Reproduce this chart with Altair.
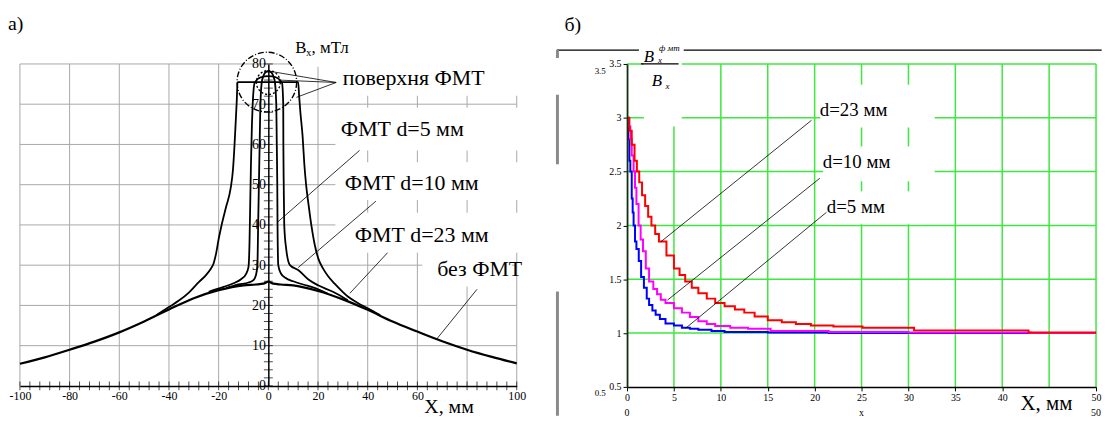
import altair as alt
import pandas as pd

SERIF = "Liberation Serif, 'Times New Roman', 'DejaVu Serif', serif"

# ---------------- panel a) : Bx(X), mT ----------------
base_x = [-100, -90, -80, -70, -60, -50, -40, -30, -20, -10, -5, -2, 0, 2, 5, 10, 20, 30, 40, 50, 60, 70, 80, 90, 100]
base_y = [5.5, 7.1, 9.0, 11.0, 13.3, 16.0, 19.0, 21.8, 23.8, 25.0, 25.2, 25.4, 25.9, 25.4, 25.2, 25.0, 23.6, 21.5, 18.9, 16.0, 13.5, 11.1, 9.0, 7.2, 5.6]

d23_x = [-45, -40, -36, -32, -28, -25, -23.3, -22, -21, -20, -18.8, -17, -15.2, -14.2, -13.6, -13.1, -12.7, -12.4,
         12.0, 12.4, 12.9, 13.8, 14.5, 15.2, 16.2, 17.3, 18.7, 20.2, 22, 24, 26.7, 32, 36, 40, 45]
d23_y = [17.6, 19.6, 21.2, 23.2, 25.8, 27.6, 29.0, 30.5, 33.0, 36.5, 40.0, 44.5, 49.0, 54.0, 60.0, 66.0, 71.0, 75.5,
         75.5, 72.0, 68.0, 62.0, 55.0, 50.0, 45.0, 40.0, 35.0, 31.5, 29.2, 27.3, 25.4, 22.2, 20.6, 19.3, 17.6]

d10_x = [-24, -18, -14, -11, -9, -8, -7.6, -7.3, -7.0, -6.6, -6.3, -5.5, -3, 0, 3, 5.5, 6.0, 6.05, 6.2, 6.4, 7.2, 8.7, 12, 16, 20, 26, 32]
d10_y = [23.4, 24.6, 25.5, 26.5, 27.8, 29.5, 35, 45, 55, 65, 70, 75.3, 76.7, 77, 76.7, 75.3, 70, 60, 50, 40, 34, 30, 28.8, 26.5, 25, 23.4, 21.3]

d5_x = [-17, -12, -8, -6, -5, -4.4, -4.1, -3.8, -3.5, -3.2, -2.5, -1, 0, 1, 2.5, 3.2, 3.4, 3.6, 3.7, 4.0, 5, 7, 10, 14, 18, 24]
d5_y = [24.3, 25.2, 25.7, 26.3, 27.5, 30, 40, 50, 60, 70, 76, 78, 78.2, 78, 76, 70, 60, 50, 40, 30, 28, 26.8, 26, 25.2, 24.5, 22.9]

a_xlabels = [-100, -80, -60, -40, -20, 0, 20, 40, 60, 100]
a_xgrid = [-100, -80, -60, -40, -20, 20, 40, 60, 80, 100]
a_ylabels = [0, 10, 20, 30, 40, 50, 60, 70, 80]
a_ygrid = [10, 20, 30, 40, 50, 60, 70, 80]
a_xminor = list(range(-100, 101, 4))
a_yminor = list(range(0, 81, 2))

# ---------------- panel б) : ratio ----------------
r23_x = [0, 0.25, 0.5, 0.8, 1.05, 1.3, 1.6, 1.93, 2.25, 2.6, 3.0, 3.4, 4.2, 5.0, 5.6, 6.2, 6.9, 7.6, 8.5, 9.4, 10.4, 11.5, 12.5, 13.6, 15.0, 16.5, 18.0, 19.6, 22.0, 25.1, 30.6, 42.8, 50]
r23_y = [3.0, 2.88, 2.75, 2.6, 2.5, 2.4, 2.28, 2.18, 2.08, 2.0, 1.92, 1.85, 1.72, 1.6, 1.54, 1.48, 1.42, 1.37, 1.32, 1.28, 1.25, 1.22, 1.19, 1.155, 1.12, 1.1, 1.085, 1.07, 1.06, 1.05, 1.025, 1.005, 1.005]

r10_x = [0, 0.2, 0.35, 0.5, 0.7, 0.85, 1.0, 1.23, 1.45, 1.7, 2.0, 2.35, 2.8, 3.2, 3.6, 4.1, 5.0, 5.85, 6.7, 7.6, 8.5, 9.4, 11.0, 12.9, 15.3, 21.5, 30, 43, 50]
r10_y = [3.0, 2.92, 2.8, 2.65, 2.5, 2.35, 2.2, 2.0, 1.87, 1.76, 1.6, 1.48, 1.41, 1.36, 1.31, 1.28, 1.23, 1.19, 1.15, 1.11, 1.085, 1.065, 1.05, 1.04, 1.02, 1.01, 1.005, 1.0, 1.0]

r5_x = [0, 0.1, 0.25, 0.35, 0.5, 0.6, 0.7, 0.85, 1.0, 1.25, 1.5, 1.8, 2.1, 2.35, 2.7, 3.05, 3.5, 4.1, 5.0, 5.85, 6.7, 7.6, 9.0, 10.4, 15.0, 21.5, 50]
r5_y = [2.98, 2.8, 2.6, 2.5, 2.25, 2.12, 2.0, 1.85, 1.78, 1.67, 1.52, 1.42, 1.32, 1.26, 1.21, 1.17, 1.13, 1.09, 1.07, 1.05, 1.04, 1.03, 1.02, 1.01, 1.005, 1.0, 1.0]

b_xlabels = [0, 5, 10, 15, 20, 25, 30, 35, 40, 50]
b_xgrid = [5, 10, 15, 20, 25, 30, 35, 40, 45, 50]
b_ylabels = [0.5, 1, 1.5, 2, 2.5, 3, 3.5]
b_ygrid = [1, 1.5, 2, 2.5, 3, 3.5]


def series(xs, ys):
    return pd.DataFrame({"x": xs, "y": ys, "i": list(range(len(xs)))})


# ======================= panel a) =======================
AX = alt.X("x:Q", scale=alt.Scale(domain=[-100, 100], nice=False, zero=False),
           axis=alt.Axis(values=a_xlabels, title=None, grid=False, ticks=False,
                         domainColor="black", domainWidth=1.5, zindex=1,
                         labelFont=SERIF, labelFontSize=12, labelColor="black",
                         labelPadding=5, labelFlush=False, labelOverlap=False,
                         labelExpr="(datum.value < 0 ? '-' : '') + abs(datum.value)"))
AY = alt.Y("y:Q", scale=alt.Scale(domain=[0, 80], nice=False, zero=False),
           axis=alt.Axis(values=a_ylabels, title=None, grid=False, ticks=False,
                         orient="left", offset=-250, domainColor="black", domainWidth=1.5,
                         zindex=1, labelFont=SERIF, labelFontSize=14, labelColor="black",
                         labelPadding=3, labelFlush=False, labelOverlap=False))

GRID_A = "#a8a8a8"
a_layers = []
a_layers.append(alt.Chart(pd.DataFrame({"x": a_xgrid})).mark_rule(color=GRID_A, strokeWidth=1).encode(x=AX))
a_layers.append(alt.Chart(pd.DataFrame({"y": a_ygrid})).mark_rule(color=GRID_A, strokeWidth=1).encode(y=AY))

# white label boxes of the original figure
a_boxes = pd.DataFrame({
    "x": [9.2, 27, 27, 27, 27, 62],
    "x2": [30, 101.2, 101.2, 101.2, 101.2, 98],
    "y": [79.3, 72.1, 58.5, 46.2, 33.1, 24.7],
    "y2": [86.2, 86.2, 69.1, 55.6, 43.0, 33.1],
})
a_layers.append(alt.Chart(a_boxes).mark_rect(color="white").encode(
    x=AX, x2="x2:Q", y=AY, y2="y2:Q"))

# minor ticks crossing the axes
a_layers.append(alt.Chart(pd.DataFrame({"x": a_xminor, "y": [0] * len(a_xminor)})).mark_tick(
    orient="vertical", color="black", size=9, thickness=1).encode(x=AX, y=AY))
a_layers.append(alt.Chart(pd.DataFrame({"x": [0] * len(a_yminor), "y": a_yminor})).mark_tick(
    orient="horizontal", color="black", size=9, thickness=1).encode(x=AX, y=AY))

for xs, ys, w in [(base_x, base_y, 2.2), (d23_x, d23_y, 1.8), (d10_x, d10_y, 1.8), (d5_x, d5_y, 1.8)]:
    a_layers.append(alt.Chart(series(xs, ys)).mark_line(color="black", strokeWidth=w,
                                                        interpolate="monotone").encode(
        x=AX, y=AY, order="i:Q"))

a_leaders = pd.DataFrame({
    "x": [27.3, 27.3, 27.3, 36.7, 43.3, 48.0, 84.0],
    "y": [75.4, 75.4, 75.4, 58.5, 45.9, 33.1, 24.0],
    "x2": [-0.5, 4.0, 11.3, 3.7, 12.0, 32.8, 67.6],
    "y2": [78.3, 76.0, 71.7, 40.7, 29.4, 23.0, 11.5],
})
a_layers.append(alt.Chart(a_leaders).mark_rule(color="black", strokeWidth=0.8).encode(
    x=AX, y=AY, x2="x2:Q", y2="y2:Q"))

a_layers.append(alt.Chart(pd.DataFrame({"x": [-0.6], "y": [75.5]})).mark_point(
    shape="circle", filled=False, color="black", strokeWidth=1.4, strokeDash=[6, 2, 1, 2], opacity=1
).encode(x=AX, y=AY, size=alt.value(3600)))
a_layers.append(alt.Chart(pd.DataFrame({"x": [0], "y": [75.4]})).mark_point(
    shape="circle", filled=False, color="black", strokeWidth=1.4, strokeDash=[2, 2], opacity=1
).encode(x=AX, y=AY, size=alt.value(576)))

a_big = pd.DataFrame({
    "x": [30.0, 29.2, 30.8, 34.8, 68.0],
    "y": [74.8, 62.0, 48.6, 35.8, 27.4],
    "t": ["поверхня ФМТ", "ФМТ d=5 мм", "ФМТ d=10 мм", "ФМТ d=23 мм", "без ФМТ"],
})
a_layers.append(alt.Chart(a_big).mark_text(align="left", baseline="alphabetic", font=SERIF,
                                           fontSize=22, color="black").encode(x=AX, y=AY, text="t:N"))
a_layers.append(alt.Chart(pd.DataFrame({"x": [62.8], "y": [-6.7], "t": ["X, мм"]})).mark_text(
    align="left", baseline="alphabetic", font=SERIF, fontSize=20, color="black").encode(x=AX, y=AY, text="t:N"))
a_layers.append(alt.Chart(pd.DataFrame({"x": [10.8, 17.4], "y": [82.7, 82.7], "t": ["B", ", мТл"]})).mark_text(
    align="left", baseline="alphabetic", font=SERIF, fontSize=17, color="black").encode(x=AX, y=AY, text="t:N"))
a_layers.append(alt.Chart(pd.DataFrame({"x": [15.2], "y": [82.0], "t": ["x"]})).mark_text(
    align="left", baseline="alphabetic", font=SERIF, fontSize=11, color="black").encode(x=AX, y=AY, text="t:N"))
a_layers.append(alt.Chart(pd.DataFrame({"x": [-104.8], "y": [92.3], "t": ["а)"]})).mark_text(
    align="left", baseline="top", font=SERIF, fontSize=20, color="black").encode(x=AX, y=AY, text="t:N"))

left = alt.layer(*a_layers).properties(width=500, height=324)

# ======================= panel б) =======================
BX = alt.X("x:Q", scale=alt.Scale(domain=[0, 50], nice=False, zero=False),
           axis=alt.Axis(values=b_xlabels, title=None, grid=False, ticks=True, tickSize=4,
                         tickColor="black", domainColor="black", domainWidth=1.5, zindex=1,
                         labelFont=SERIF, labelFontSize=10, labelColor="black", labelPadding=2,
                         labelFlush=False, labelOverlap=False))
BY = alt.Y("y:Q", scale=alt.Scale(domain=[0.5, 3.5], nice=False, zero=False),
           axis=alt.Axis(values=b_ylabels, title=None, grid=False, ticks=True, tickSize=4,
                         tickColor="black", domainColor="#103010", domainWidth=1.8, zindex=1,
                         format="~g", labelFont=SERIF, labelFontSize=10, labelColor="black",
                         labelPadding=2, labelFlush=False, labelOverlap=False))

GRID_B = "#3ee83e"
b_layers = []
b_layers.append(alt.Chart(pd.DataFrame({"x": b_xgrid})).mark_rule(color=GRID_B, strokeWidth=1.5).encode(x=BX))
b_layers.append(alt.Chart(pd.DataFrame({"y": b_ygrid})).mark_rule(color=GRID_B, strokeWidth=1.5).encode(y=BY))

b_boxes = pd.DataFrame({
    "x": [1.8, 20.6, 20.9, 21.3],
    "x2": [5.83, 32.8, 32.8, 31.5],
    "y": [2.92, 2.909, 2.411, 2.01],
    "y2": [3.63, 3.306, 2.734, 2.318],
})
b_layers.append(alt.Chart(b_boxes).mark_rect(color="white").encode(x=BX, x2="x2:Q", y=BY, y2="y2:Q"))

for xs, ys, c in [(r5_x, r5_y, "#0000ff"), (r10_x, r10_y, "#ff00ff"), (r23_x, r23_y, "#ff0000")]:
    b_layers.append(alt.Chart(series(xs, ys)).mark_line(color=c, strokeWidth=2, interpolate="step-after").encode(
        x=BX, y=BY, order="i:Q"))

b_leaders = pd.DataFrame({
    "x": [19.67, 20.55, 21.26],
    "y": [2.977, 2.438, 2.122],
    "x2": [3.6, 4.31, 6.25],
    "y2": [1.848, 1.306, 1.045],
})
b_layers.append(alt.Chart(b_leaders).mark_rule(color="black", strokeWidth=0.8).encode(
    x=BX, y=BY, x2="x2:Q", y2="y2:Q"))

# frame pieces of the original figure
b_frame = pd.DataFrame({
    "x": [-7.5, 6.04, 1.48],
    "x2": [1.27, 50.6, 5.5],
    "y": [3.629, 3.629, 3.5],
    "y2": [3.629, 3.629, 3.5],
})
b_layers.append(alt.Chart(b_frame).mark_rule(color="black", strokeWidth=1.3).encode(
    x=BX, y=BY, x2="x2:Q", y2="y2:Q"))
b_bars = pd.DataFrame({
    "x": [-7.42, -7.42, -7.42],
    "x2": [-7.42, -7.42, -7.42],
    "y": [3.629, 3.214, 1.386],
    "y2": [3.555, 2.568, 0.232],
})
b_layers.append(alt.Chart(b_bars).mark_rule(color="#8a8a8a", strokeWidth=3).encode(
    x=BX, y=BY, x2="x2:Q", y2="y2:Q"))

b_lbl = pd.DataFrame({
    "x": [20.55, 20.87, 21.29],
    "y": [3.02, 2.531, 2.115],
    "t": ["d=23 мм", "d=10 мм", "d=5 мм"],
})
b_layers.append(alt.Chart(b_lbl).mark_text(align="left", baseline="alphabetic", font=SERIF,
                                           fontSize=19, color="black").encode(x=BX, y=BY, text="t:N"))
b_layers.append(alt.Chart(pd.DataFrame({"x": [41.95], "y": [0.288], "t": ["X, мм"]})).mark_text(
    align="left", baseline="alphabetic", font=SERIF, fontSize=21, color="black").encode(x=BX, y=BY, text="t:N"))
b_layers.append(alt.Chart(pd.DataFrame({"x": [0, 25, 50], "y": [0.255] * 3, "t": ["0", "x", "50"]})).mark_text(
    align="center", baseline="middle", font=SERIF, fontSize=10, color="black").encode(x=BX, y=BY, text="t:N"))
b_layers.append(alt.Chart(pd.DataFrame({"x": [-2.86, -2.86], "y": [3.435, 0.445], "t": ["3.5", "0.5"]})).mark_text(
    align="center", baseline="middle", font=SERIF, fontSize=9, color="black").encode(x=BX, y=BY, text="t:N"))
# y-title: fraction B_x^{фмт} / B_x
b_layers.append(alt.Chart(pd.DataFrame({"x": [2.33, 3.18], "y": [3.565, 3.343], "t": ["B", "B"]})).mark_text(
    align="center", baseline="middle", font=SERIF, fontSize=17, fontStyle="italic", color="black").encode(
    x=BX, y=BY, text="t:N"))
b_layers.append(alt.Chart(pd.DataFrame({"x": [4.5, 3.5, 4.3], "y": [3.648, 3.537, 3.297], "t": ["ф мт", "x", "x"]})).mark_text(
    align="center", baseline="middle", font=SERIF, fontSize=9, fontStyle="italic", color="black").encode(
    x=BX, y=BY, text="t:N"))
b_layers.append(alt.Chart(pd.DataFrame({"x": [-6.67], "y": [3.952], "t": ["б)"]})).mark_text(
    align="left", baseline="top", font=SERIF, fontSize=20, color="black").encode(x=BX, y=BY, text="t:N"))

right = alt.layer(*b_layers).properties(width=472, height=325)

chart = alt.hconcat(left, right, spacing=111, bounds="flush",
                    padding={"left": 0, "top": 5, "right": 0, "bottom": 0}).configure_view(stroke=None)

chart.save("out.html", embed_options={"renderer": "svg", "actions": False})
